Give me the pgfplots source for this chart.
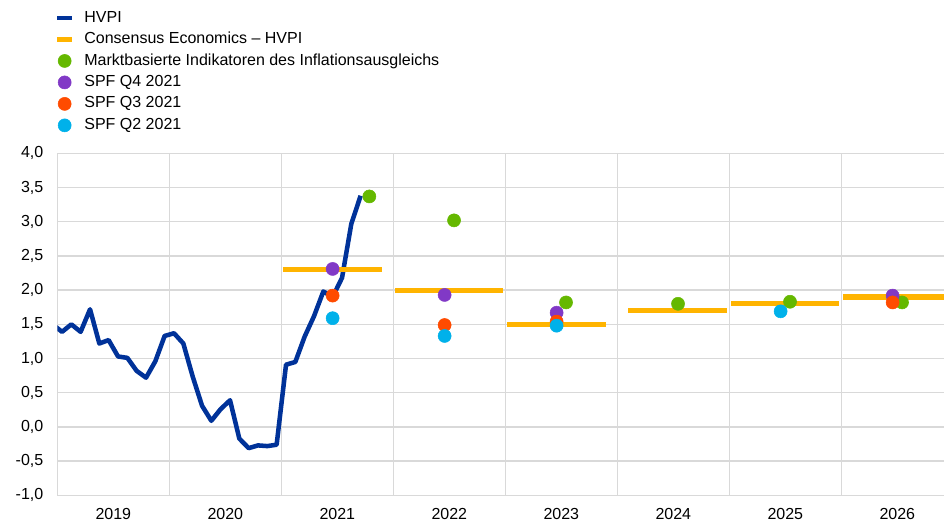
\documentclass[border=0pt]{standalone}
\usepackage{pgfplots}
\pgfplotsset{compat=1.18}
\usepackage{fontspec}
\setmainfont{Liberation Sans}
\definecolor{hvpi}{HTML}{003299}
\definecolor{cons}{HTML}{FFB400}
\definecolor{mkt}{HTML}{65B800}
\definecolor{spfq4}{HTML}{8139C6}
\definecolor{spfq3}{HTML}{FF4B00}
\definecolor{spfq2}{HTML}{00B1EA}
\definecolor{gridc}{HTML}{D9D9D9}
\begin{document}
\begin{tikzpicture}
\useasboundingbox (0,0) rectangle (708pt,393pt);
\begin{axis}[
  at={(43pt,21.5pt)}, anchor=south west,
  scale only axis, width=665pt, height=256.5pt,
  xmin=2019, xmax=2026.917, ymin=-1, ymax=4,
  axis lines*=left,
  axis line style={draw=gridc, line width=1pt},
  xtick={2019.5,2020.5,2021.5,2022.5,2023.5,2024.5,2025.5,2026.5},
  xticklabels={2019,2020,2021,2022,2023,2024,2025,2026},
  minor xtick={2020,2021,2022,2023,2024,2025,2026},
  xminorgrids, ymajorgrids,
  ytick={-1,-0.5,...,4},
  major tick length=0pt, minor tick length=0pt,
  grid style={draw=gridc, line width=1pt},
  minor grid style={draw=gridc, line width=1pt},
  /pgf/number format/.cd, fixed, fixed zerofill, precision=1, use comma, assume math mode=true,
  /pgfplots/.cd,
  tick label style={font=\fontsize{12}{14}\selectfont},
  yticklabel style={xshift=-7pt},
  xticklabel style={yshift=-6pt},
  legend cell align=left,
  legend style={draw=none, fill=none, at={(axis description cs:-0.003,1.422)}, anchor=north west,
    font=\fontsize{12}{14}\selectfont, row sep=3pt, inner sep=0pt,
    nodes={inner sep=1pt, text height=8.6pt, text depth=2.5pt},
    /tikz/every odd column/.append style={column sep=6.5pt}},
]
% HVPI
\addplot[hvpi, line width=3.4pt, line join=round, legend image code/.code={\draw[hvpi, line width=3.6pt] (0pt,0pt) -- (11pt,0pt);}] coordinates {
(2018.958,1.5)
(2019.042,1.39) (2019.125,1.50) (2019.208,1.39) (2019.292,1.72) (2019.375,1.22) (2019.458,1.27)
(2019.542,1.03) (2019.625,1.01) (2019.708,0.82) (2019.792,0.72) (2019.875,0.96) (2019.958,1.33)
(2020.042,1.37) (2020.125,1.22) (2020.208,0.74) (2020.292,0.31) (2020.375,0.09) (2020.458,0.26)
(2020.542,0.39) (2020.625,-0.17) (2020.708,-0.31) (2020.792,-0.27) (2020.875,-0.28) (2020.958,-0.26)
(2021.042,0.91) (2021.125,0.95) (2021.208,1.32) (2021.292,1.62) (2021.375,1.98) (2021.458,1.90)
(2021.542,2.18) (2021.625,2.97) (2021.708,3.38)
};
\addlegendentry{HVPI}
% Consensus
\addplot[cons, line width=3.8pt, unbounded coords=jump, legend image code/.code={\draw[cons, line width=3.6pt] (0pt,0pt) -- (11pt,0pt);}] coordinates {
(2021.018,2.3) (2021.897,2.3) (2021.95,nan)
(2022.015,2.0) (2022.982,2.0) (2022.99,nan)
(2023.018,1.5) (2023.896,1.5) (2023.95,nan)
(2024.098,1.7) (2024.977,1.7) (2024.99,nan)
(2025.015,1.8) (2025.980,1.8) (2025.99,nan)
(2026.013,1.9) (2026.95,1.9)
};
\addlegendentry{Consensus Economics -- HVPI}
\pgfplotsset{legend image code/.code={\draw[mark repeat=1,mark phase=1,#1] plot coordinates {(5.5pt,0pt)};}}
\addplot[only marks, mark=*, mark size=4.9pt, mkt, mark options={draw=none, fill=mkt}] coordinates {
(2021.786,3.37) (2022.542,3.02) (2023.542,1.82) (2024.542,1.80) (2025.542,1.83) (2026.542,1.82)
};
\addlegendentry{Marktbasierte Indikatoren des Inflationsausgleichs}
\addplot[only marks, mark=*, mark size=4.9pt, spfq4, mark options={draw=none, fill=spfq4}] coordinates {
(2021.458,2.31) (2022.458,1.93) (2023.458,1.67) (2026.458,1.92)
};
\addlegendentry{SPF Q4 2021}
\addplot[only marks, mark=*, mark size=4.9pt, spfq3, mark options={draw=none, fill=spfq3}] coordinates {
(2021.458,1.92) (2022.458,1.49) (2023.458,1.54) (2026.458,1.82)
};
\addlegendentry{SPF Q3 2021}
\addplot[only marks, mark=*, mark size=4.9pt, spfq2, mark options={draw=none, fill=spfq2}] coordinates {
(2021.458,1.59) (2022.458,1.33) (2023.458,1.48) (2025.458,1.69)
};
\addlegendentry{SPF Q2 2021}
\end{axis}
\end{tikzpicture}
\end{document}
